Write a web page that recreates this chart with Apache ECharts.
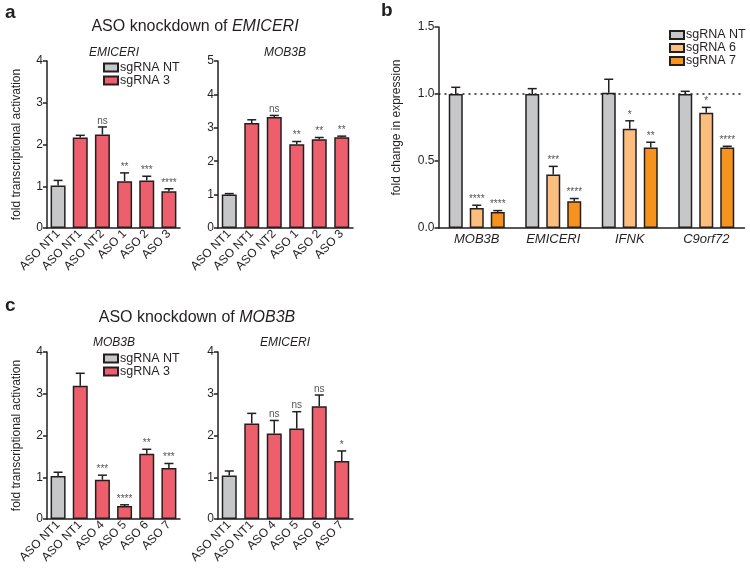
<!DOCTYPE html>
<html>
<head>
<meta charset="utf-8">
<style>
  html, body { margin: 0; padding: 0; background: #fff; }
  #chart { width: 750px; height: 571px; }
</style>
</head>
<body>
<div id="chart"></div>
<script src="https://cdn.jsdelivr.net/npm/echarts@6/dist/echarts.min.js"></script>
<script>
// ---- data ----
var groupsSmall = ['sgRNA NT', 'sgRNA 3', 'sgRNA 3', 'sgRNA 3', 'sgRNA 3', 'sgRNA 3'];

// panel a : ASO knockdown of EMICERI
var aCats = ['ASO NT1', 'ASO NT1', 'ASO NT2', 'ASO 1', 'ASO 2', 'ASO 3'];
var aEmiMean = [1.02, 2.17, 2.24, 1.12, 1.14, 0.88];
var aEmiErr = [0.12, 0.05, 0.18, 0.20, 0.10, 0.06];
var aEmiSig = ['', '', 'ns', '**', '***', '****'];
var aMobMean = [1.00, 3.14, 3.32, 2.51, 2.66, 2.72];
var aMobErr = [0.03, 0.10, 0.05, 0.08, 0.05, 0.03];
var aMobSig = ['', '', 'ns', '**', '**', '**'];

// panel b : fold change in expression
var bGenes = ['MOB3B', 'EMICERI', 'IFNK', 'C9orf72'];
var bNT = [1.00, 1.00, 1.01, 1.00];
var bNTErr = [0.05, 0.04, 0.10, 0.02];
var bSg6 = [0.15, 0.40, 0.74, 0.86];
var bSg6Err = [0.02, 0.06, 0.06, 0.04];
var bSg6Sig = ['****', '***', '*', '*'];
var bSg7 = [0.12, 0.20, 0.60, 0.60];
var bSg7Err = [0.01, 0.02, 0.04, 0.01];
var bSg7Sig = ['****', '****', '**', '****'];

// panel c : ASO knockdown of MOB3B
var cCats = ['ASO NT1', 'ASO NT1', 'ASO 4', 'ASO 5', 'ASO 6', 'ASO 7'];
var cMobMean = [1.03, 3.19, 0.94, 0.31, 1.56, 1.22];
var cMobErr = [0.09, 0.30, 0.11, 0.03, 0.11, 0.11];
var cMobSig = ['', '', '***', '****', '**', '***'];
var cEmiMean = [1.04, 2.29, 2.05, 2.17, 2.70, 1.39];
var cEmiErr = [0.11, 0.24, 0.31, 0.40, 0.27, 0.24];
var cEmiSig = ['', '', 'ns', 'ns', 'ns', '*'];

// ---- styling ----
var FONT = 'Liberation Sans, Arial, Helvetica, sans-serif';
var INK = '#231f20';
var colors = { 'sgRNA NT': '#c6c7c9', 'sgRNA 3': '#ee5f6d', 'sgRNA 6': '#fbbe7f', 'sgRNA 7': '#f6921e' };

var chart = echarts.init(document.getElementById('chart'));

function pick(vals, name) {
  return vals.map(function (v, i) { return groupsSmall[i] === name ? v : null; });
}

function bar(name, gi, vals, width) {
  return {
    type: 'bar', name: name, xAxisIndex: gi, yAxisIndex: gi, data: vals,
    barWidth: width, barGap: width === 15 ? '-100%' : '50%',
    itemStyle: { color: colors[name], borderColor: INK, borderWidth: 1.5 },
    z: 2, silent: true
  };
}

function errBars(gi, means, errs, sigs, offset, cap) {
  return {
    type: 'custom', xAxisIndex: gi, yAxisIndex: gi, z: 5, silent: true,
    data: means.map(function (m, i) { return [i, m, errs[i]]; }),
    renderItem: function (params, api) {
      var i = api.value(0), m = api.value(1), e = api.value(2);
      var p0 = api.coord([i, m]);
      var p1 = api.coord([i, m + e]);
      var x = p0[0] + offset;
      var ls = { stroke: INK, lineWidth: 1.5 };
      var kids = [
        { type: 'line', shape: { x1: x, y1: p0[1], x2: x, y2: p1[1] }, style: ls },
        { type: 'line', shape: { x1: x - cap, y1: p1[1], x2: x + cap, y2: p1[1] }, style: ls }
      ];
      if (sigs[i]) {
        kids.push({ type: 'text', style: {
          text: sigs[i], x: x, y: p1[1] - 1, align: 'center', verticalAlign: 'bottom',
          fontSize: 10, fontFamily: FONT, fill: '#555'
        } });
      }
      return { type: 'group', children: kids };
    }
  };
}

function catAxis(gi, cats, italic) {
  return {
    type: 'category', gridIndex: gi, data: cats,
    axisLine: { lineStyle: { color: INK, width: 1.5 } },
    axisTick: { show: false },
    axisLabel: italic
      ? { interval: 0, fontSize: 13, fontStyle: 'italic', color: INK, fontFamily: FONT, margin: 5 }
      : { interval: 0, rotate: 45, fontSize: 12, color: INK, fontFamily: FONT, margin: 4 }
  };
}

function valAxis(gi, max, step, name, gap, dec) {
  return {
    type: 'value', gridIndex: gi, min: 0, max: max, interval: step,
    name: name, nameLocation: 'middle', nameGap: gap,
    nameTextStyle: { fontSize: 12, color: INK, fontFamily: FONT },
    splitLine: { show: false },
    axisLine: { show: true, lineStyle: { color: INK, width: 1.5 } },
    axisTick: { show: true, length: 4, lineStyle: { color: INK, width: 1.5 } },
    axisLabel: {
      fontSize: 12, color: INK, fontFamily: FONT, margin: 4,
      formatter: function (v) { return dec ? v.toFixed(1) : v; }
    }
  };
}

function label(text, x, y, size, bold) {
  return { text: text, left: x, top: y, padding: 0,
    textStyle: { fontSize: size, fontWeight: bold ? 'bold' : 'normal', color: INK, fontFamily: FONT } };
}

function headline(prefix, gene, x, y) {
  return { text: '{n|' + prefix + '}{i|' + gene + '}', left: x, top: y, padding: 0, textAlign: 'center',
    textStyle: { fontWeight: 'normal', rich: {
      n: { fontSize: 16, color: INK, fontFamily: FONT, fontWeight: 'normal' },
      i: { fontSize: 16, color: INK, fontFamily: FONT, fontStyle: 'italic', fontWeight: 'normal' }
    } } };
}

function geneTitle(gene, x, y) {
  return { text: gene, left: x, top: y, padding: 0, textAlign: 'center',
    textStyle: { fontSize: 12, fontStyle: 'italic', fontWeight: 'normal', color: INK, fontFamily: FONT } };
}

function legend(names, x, y) {
  return { data: names, left: x, top: y, orient: 'vertical', icon: 'rect', padding: 0,
    itemWidth: 14, itemHeight: 8, itemGap: 0, selectedMode: false,
    textStyle: { fontSize: 12.5, color: INK, fontFamily: FONT, padding: [0, 0, 0, -3] } };
}

var option = {
  animation: false,
  title: [
    label('a', 5, 3, 19, true),
    label('b', 381, 1, 19, true),
    label('c', 5, 296, 19, true),
    headline('ASO knockdown of ', 'EMICERI', 195, 19),
    headline('ASO knockdown of ', 'MOB3B', 197, 310),
    geneTitle('EMICERI', 114, 47),
    geneTitle('MOB3B', 285, 47),
    geneTitle('MOB3B', 114, 337),
    geneTitle('EMICERI', 285, 337)
  ],
  legend: [
    legend(['sgRNA NT', 'sgRNA 3'], 103, 61),
    legend(['sgRNA NT', 'sgRNA 6', 'sgRNA 7'], 669, 28.5),
    legend(['sgRNA NT', 'sgRNA 3'], 103, 352)
  ],
  grid: [
    { left: 47, top: 61, width: 133, height: 167 },
    { left: 218, top: 61, width: 135, height: 167 },
    { left: 438.5, top: 27, width: 306, height: 201 },
    { left: 47, top: 352, width: 133, height: 167 },
    { left: 218, top: 352, width: 135, height: 167 }
  ],
  xAxis: [
    catAxis(0, aCats), catAxis(1, aCats), catAxis(2, bGenes, true), catAxis(3, cCats), catAxis(4, cCats)
  ],
  yAxis: [
    valAxis(0, 4, 1, 'fold transcriptional activation', 24),
    valAxis(1, 5, 1, '', 0),
    valAxis(2, 1.5, 0.5, 'fold change in expression', 36, true),
    valAxis(3, 4, 1, 'fold transcriptional activation', 24),
    valAxis(4, 4, 1, '', 0)
  ],
  series: [
    bar('sgRNA NT', 0, pick(aEmiMean, 'sgRNA NT'), 15),
    bar('sgRNA 3', 0, pick(aEmiMean, 'sgRNA 3'), 15),
    errBars(0, aEmiMean, aEmiErr, aEmiSig, 0, 4.5),
    bar('sgRNA NT', 1, pick(aMobMean, 'sgRNA NT'), 15),
    bar('sgRNA 3', 1, pick(aMobMean, 'sgRNA 3'), 15),
    errBars(1, aMobMean, aMobErr, aMobSig, 0, 4.5),

    Object.assign(bar('sgRNA NT', 2, bNT, 14), {
      markLine: { silent: true, symbol: 'none', label: { show: false },
        lineStyle: { type: [2, 4], color: INK, width: 1.5 }, data: [{ yAxis: 1 }] }
    }),
    bar('sgRNA 6', 2, bSg6, 14),
    bar('sgRNA 7', 2, bSg7, 14),
    errBars(2, bNT, bNTErr, ['', '', '', ''], -21, 4.5),
    errBars(2, bSg6, bSg6Err, bSg6Sig, 0, 4.5),
    errBars(2, bSg7, bSg7Err, bSg7Sig, 21, 4.5),

    bar('sgRNA NT', 3, pick(cMobMean, 'sgRNA NT'), 15),
    bar('sgRNA 3', 3, pick(cMobMean, 'sgRNA 3'), 15),
    errBars(3, cMobMean, cMobErr, cMobSig, 0, 4.5),
    bar('sgRNA NT', 4, pick(cEmiMean, 'sgRNA NT'), 15),
    bar('sgRNA 3', 4, pick(cEmiMean, 'sgRNA 3'), 15),
    errBars(4, cEmiMean, cEmiErr, cEmiSig, 0, 4.5)
  ]
};

chart.setOption(option);
</script>
</body>
</html>
